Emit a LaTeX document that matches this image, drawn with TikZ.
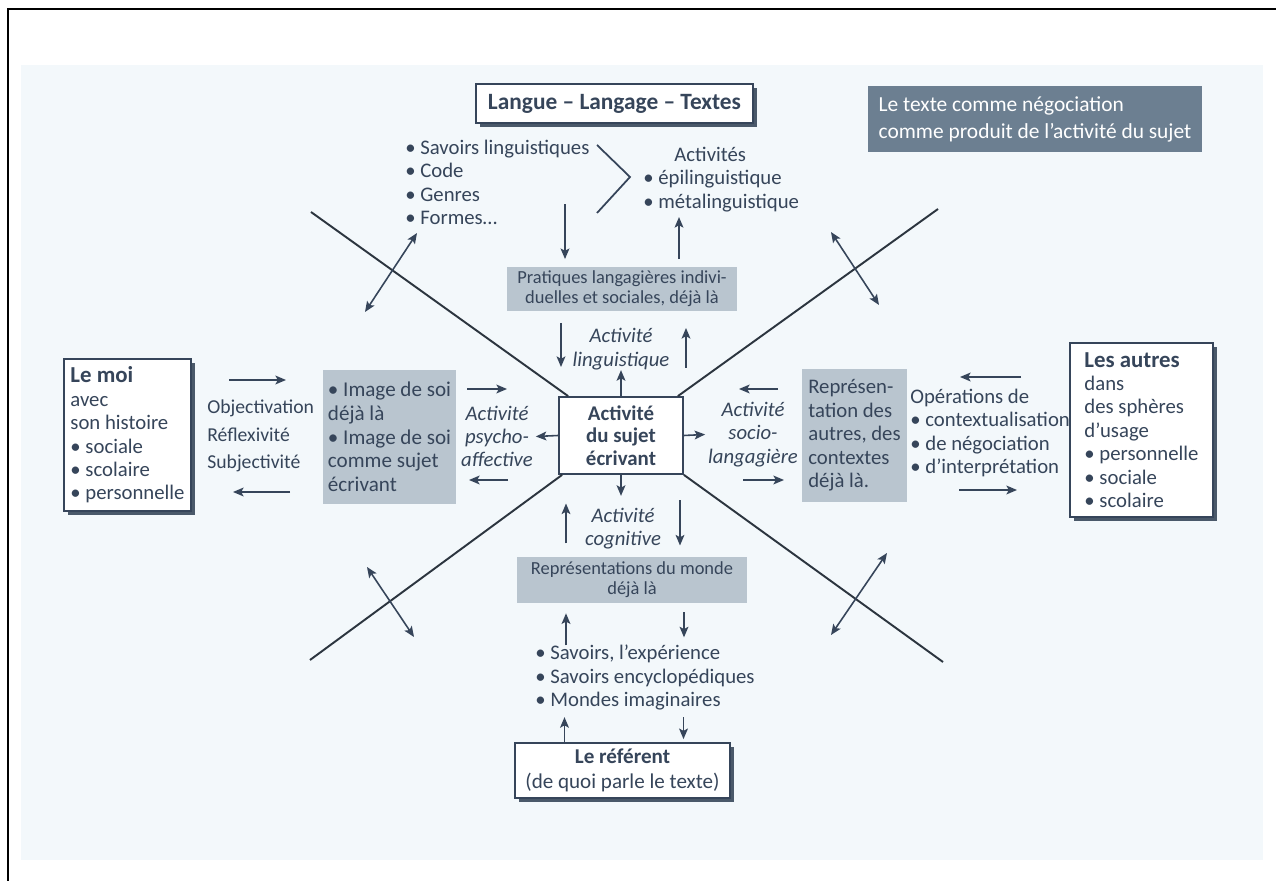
\documentclass[tikz,border=0pt]{standalone}
\usepackage{fontspec}
\setmainfont{Carlito}
\usepackage{tikz}
\usepackage{xcolor}
\usetikzlibrary{positioning,arrows.meta,shadows}

\definecolor{encre}{HTML}{36455A}
\definecolor{fond}{HTML}{F3F8FB}
\definecolor{grisbleu}{HTML}{B9C5CF}
\definecolor{sombre}{HTML}{6C7F91}
\definecolor{ombre}{HTML}{4A596A}
\definecolor{trait}{HTML}{2C353F}

\newcommand{\corps}{\fontsize{11.8}{13.3}\selectfont}
\newcommand{\petit}{\fontsize{10.5}{11.5}\selectfont}
\newcommand{\titre}{\fontsize{13}{13.3}\selectfont\bfseries}

\begin{document}
\begin{tikzpicture}[x=0.02cm, y=-0.02cm, font=\corps, text=encre,
    fl/.style={draw=encre, line width=0.9pt, -{Stealth[length=6pt, width=5pt, inset=1.3pt]}},
    dfl/.style={draw=encre, line width=0.9pt, {Stealth[length=6pt, width=5pt, inset=1.3pt]}-{Stealth[length=6pt, width=5pt, inset=1.3pt]}},
    diag/.style={draw=trait, line width=1.1pt},
    cadre/.style={draw=encre, line width=1pt, fill=white, align=left,
        drop shadow={shadow xshift=2.3pt, shadow yshift=-2.3pt, fill=ombre, opacity=1}},
    grisbox/.style={fill=grisbleu, align=left, inner sep=2pt},
    etiq/.style={align=center, inner sep=1.5pt, font=\corps\itshape},
    liste/.style={align=left, inner sep=0pt, anchor=west}]

    \useasboundingbox (0,0) rectangle (1276,881);
    \fill[fond] (21,65) rectangle (1263,860);
    \draw[line width=0.8pt] (8,881) -- (8,9) -- (1276,9);

    \coordinate (hg) at (311,212);
    \coordinate (hd) at (938,209);
    \coordinate (bg) at (310,660);
    \coordinate (bd) at (943,662);
    \coordinate (ng1) at (417,233);
    \coordinate (ng2) at (365,312);
    \coordinate (nd1) at (831,232);
    \coordinate (nd2) at (879,305);
    \coordinate (sg1) at (367,567);
    \coordinate (sg2) at (414,637);
    \coordinate (sd1) at (887,553);
    \coordinate (sd2) at (831,635);

    % haut
    \node[cadre, align=center, minimum width=5.54cm, minimum height=0.78cm,
        font=\fontsize{13.3}{14}\selectfont\bfseries] (langue) at (614.5,103.5) {Langue -- Langage -- Textes};
    \node[fill=sombre, text=white, align=left, minimum width=6.68cm, minimum height=1.32cm,
        font=\fontsize{12.2}{15.3}\selectfont] (negoc) at (1035,119)
        {Le texte comme négociation\\comme produit de l'activité du sujet};
    \node[liste] (savoirs) at (405,182.5)
        {\textbullet\ Savoirs linguistiques\\\textbullet\ Code\\\textbullet\ Genres\\\textbullet\ Formes\dots};
    \node[liste] (activites) at (643,179.5)
        {\hspace*{1.5em}Activités\\\textbullet\ épilinguistique\\\textbullet\ métalinguistique};
    \draw[encre, line width=1pt] (597,145) -- (630,177) -- (597,213);
    \node[grisbox, align=center, minimum width=4.6cm, minimum height=0.84cm, font=\petit] (prat) at (622,289)
        {Pratiques langagières indivi-\\duelles et sociales, déjà là};
    \node[etiq] (ling) at (621,349) {Activité\\linguistique};

    % centre
    \node[draw=encre, line width=1pt, fill=white, align=center, minimum width=2.48cm, minimum height=1.54cm,
        font=\fontsize{11.9}{12.9}\selectfont\bfseries] (centre) at (621,435.5) {Activité\\du sujet\\écrivant};

    % gauche
    \node[etiq] (psy) at (497,436.5) {Activité\\psycho-\\affective};
    \node[grisbox, minimum width=2.66cm, minimum height=2.68cm, font=\fontsize{12}{13.5}\selectfont] (image) at (389.5,437)
        {\textbullet\ Image de soi\\déjà là\\\textbullet\ Image de soi\\comme sujet\\écrivant};
    \node[liste, font=\fontsize{11.2}{15.6}\selectfont] (objectiv) at (207,436) {Objectivation\\Réflexivité\\Subjectivité};
    \node[cadre, minimum width=2.54cm, minimum height=3.04cm] (moi) at (127.5,435)
        {{\titre Le moi}\\avec\\son histoire\\\textbullet\ sociale\\\textbullet\ scolaire\\\textbullet\ personnelle};

    % droite
    \node[etiq] (socio) at (753,434.5) {Activité\\socio-\\langagière};
    \node[grisbox, minimum width=2.1cm, minimum height=2.66cm, font=\fontsize{11.8}{13.4}\selectfont] (repres) at (854.5,435.5)
        {Représen-\\tation des\\autres, des\\contextes\\déjà là.};
    \node[liste] (operations) at (910,433)
        {Opérations de\\\textbullet\ contextualisation\\\textbullet\ de négociation\\\textbullet\ d'interprétation};
    \node[cadre, minimum width=2.86cm, minimum height=3.48cm] (autres) at (1141.5,430)
        {{\titre Les autres}\\dans\\des sphères\\d'usage\\\textbullet\ personnelle\\\textbullet\ sociale\\\textbullet\ scolaire};

    % bas
    \node[etiq] (cog) at (623,528.5) {Activité\\cognitive};
    \node[grisbox, align=center, minimum width=4.6cm, minimum height=0.92cm, font=\petit] (monde) at (632,580)
        {Représentations du monde\\déjà là};
    \node[liste] (savoirs2) at (535,677.5)
        {\textbullet\ Savoirs, l'expérience\\\textbullet\ Savoirs encyclopédiques\\\textbullet\ Mondes imaginaires};
    \node[cadre, align=center, minimum width=4.3cm, minimum height=1.1cm, font=\fontsize{12}{14}\selectfont] (referent) at (622.5,770.5)
        {{\bfseries Le référent}\\(de quoi parle le texte)};

    \draw[diag] (hg) -- ([shift={(10,0)}]centre.north west);
    \draw[diag] (hd) -- ([shift={(-6,0)}]centre.north east);
    \draw[diag] (bg) -- ([shift={(4,0)}]centre.south west);
    \draw[diag] (bd) -- (centre.south east);
    \draw[dfl] (ng1) -- (ng2);
    \draw[dfl] (nd1) -- (nd2);
    \draw[dfl] (sg1) -- (sg2);
    \draw[dfl] (sd1) -- (sd2);

    \draw[fl] ([shift={(-57,-63)}]prat.north) -- ++(0,55);
    \draw[fl] ([shift={(57,-8)}]prat.north) -- ++(0,-42);
    \draw[fl] ([shift={(-60,-26)}]ling.center) -- ++(0,44);
    \draw[fl] ([shift={(65,19)}]ling.center) -- ++(0,-40);
    \draw[fl] (centre.north) -- ++(0,-26);
    \draw[fl] (centre.west) -- (psy.east);
    \draw[fl] ([shift={(-30,-47.5)}]psy.center) -- ++(40,0);
    \draw[fl] ([shift={(11,43.5)}]psy.center) -- ++(-39,0);
    \draw[fl] ([shift={(22,-56)}]objectiv.west) -- ++(57,0);
    \draw[fl] ([shift={(83,56)}]objectiv.west) -- ++(-57,0);
    \draw[fl] (centre.east) -- (socio.west);
    \draw[fl] ([shift={(25,-45.5)}]socio.center) -- ++(-39,0);
    \draw[fl] ([shift={(-10,45.5)}]socio.center) -- ++(41,0);
    \draw[fl] ([shift={(111,-56)}]operations.west) -- ++(-61,0);
    \draw[fl] ([shift={(49,57)}]operations.west) -- ++(58,0);
    \draw[fl] (centre.south) -- ++(0,21);
    \draw[fl] ([shift={(-57,15)}]cog.center) -- ++(0,-40);
    \draw[fl] ([shift={(57,-28)}]cog.center) -- ++(0,45);
    \draw[fl] ([shift={(-66,42)}]monde.south) -- ++(0,-32);
    \draw[fl] ([shift={(52,9)}]monde.south) -- ++(0,25);
    \draw[fl] ([shift={(-58,0)}]referent.north) -- ++(0,-25);
    \draw[fl] ([shift={(61,-25)}]referent.north) -- ++(0,22);
\end{tikzpicture}
\end{document}
